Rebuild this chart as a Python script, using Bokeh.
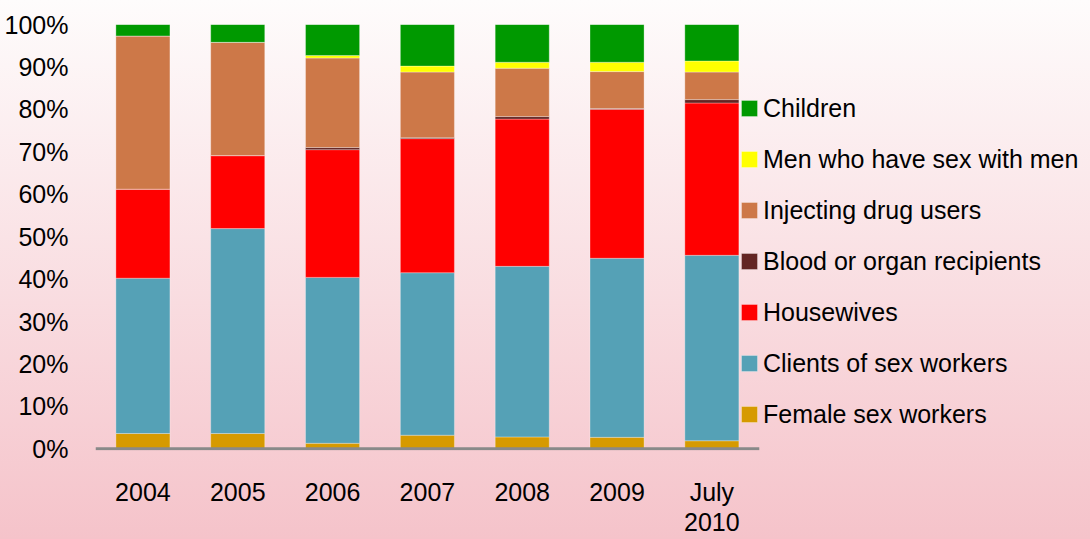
from bokeh.plotting import figure
from bokeh.models import Range1d, FixedTicker, PrintfTickFormatter, Legend, LegendItem
from bokeh.embed import file_html
from bokeh.resources import INLINE

years = ["2004", "2005", "2006", "2007", "2008", "2009", "July\n2010"]
female_sex_workers = [3.6, 3.6, 1.3, 3.2, 2.8, 2.7, 1.9]
clients_of_sex_workers = [36.6, 48.3, 39.1, 38.3, 40.2, 42.2, 43.7]
housewives = [21.0, 17.2, 30.1, 31.6, 34.7, 35.1, 35.9]
blood_or_organ_recipients = [0.0, 0.0, 0.5, 0.2, 0.6, 0.2, 0.8]
injecting_drug_users = [36.1, 26.7, 21.1, 15.5, 11.4, 8.7, 6.5]
men_who_have_sex_with_men = [0.0, 0.0, 0.6, 1.4, 1.4, 2.2, 2.6]
children = [2.7, 4.2, 7.3, 9.8, 8.9, 8.9, 8.6]

series_names = ["Female sex workers", "Clients of sex workers", "Housewives",
                "Blood or organ recipients", "Injecting drug users",
                "Men who have sex with men", "Children"]
series_values = [female_sex_workers, clients_of_sex_workers, housewives,
                 blood_or_organ_recipients, injecting_drug_users,
                 men_who_have_sex_with_men, children]
colors = ["#D69A00", "#55A1B6", "#FF0000", "#632523", "#CD7848", "#FFFF00", "#009900"]
y_ticks = [0, 10, 20, 30, 40, 50, 60, 70, 80, 90, 100]

FONT = "Liberation Sans"
FS = "25px"

positions = list(range(len(years)))
data = {"x": positions}
keys = []
for i, vals in enumerate(series_values):
    k = "s%d" % i
    keys.append(k)
    data[k] = vals

# plot area extends to the right edge so the legend (drawn inside) is not clipped
p = figure(width=1090, height=539, x_range=Range1d(-0.5, 9.993), y_range=Range1d(-0.4, 100),
           output_backend="svg", toolbar_location=None,
           min_border_left=95, min_border_right=0, min_border_top=24, min_border_bottom=87)

renderers = p.vbar_stack(keys, x="x", width=0.57, source=data, color=colors,
                         line_color="white", line_alpha=0.3, line_width=1)

# x axis base line spanning only the category slots
p.segment(x0=[-0.5], x1=[len(years) - 0.5], y0=[0], y1=[0], line_color="#898989", line_width=3)

p.background_fill_alpha = 0
p.border_fill_alpha = 0
p.outline_line_color = None
p.styles = {"background-image": "linear-gradient(to bottom, #fefcfc, #f5c3ca)"}
p.xgrid.grid_line_color = None
p.ygrid.grid_line_color = None

p.yaxis.ticker = FixedTicker(ticks=y_ticks)
p.yaxis.formatter = PrintfTickFormatter(format="%d%%")
p.yaxis.axis_line_color = None
p.yaxis.major_tick_line_color = None
p.yaxis.minor_tick_line_color = None
p.yaxis.major_label_standoff = 21
p.yaxis.major_label_text_font = FONT
p.yaxis.major_label_text_font_size = FS
p.yaxis.major_label_text_color = "#000000"

p.xaxis.ticker = FixedTicker(ticks=positions)
p.xaxis.major_label_overrides = {i: y for i, y in enumerate(years)}
p.xaxis.axis_line_color = None
p.xaxis.major_tick_line_color = None
p.xaxis.minor_tick_line_color = None
p.xaxis.major_label_standoff = 21
p.xaxis.major_label_text_font = FONT
p.xaxis.major_label_text_font_size = FS
p.xaxis.major_label_text_color = "#000000"
p.xaxis.major_label_text_line_height = 1.1

items = [LegendItem(label=series_names[i], renderers=[renderers[i]]) for i in range(6, -1, -1)]
legend = Legend(items=items, location=(644, 21), padding=0, margin=0,
                glyph_width=20, glyph_height=20, label_height=30, spacing=21,
                label_standoff=4, label_text_font=FONT, label_text_font_size=FS,
                label_text_color="#000000", background_fill_alpha=0, border_line_alpha=0)
p.add_layout(legend, "center")

open("out.html", "w").write(file_html(p, INLINE))
